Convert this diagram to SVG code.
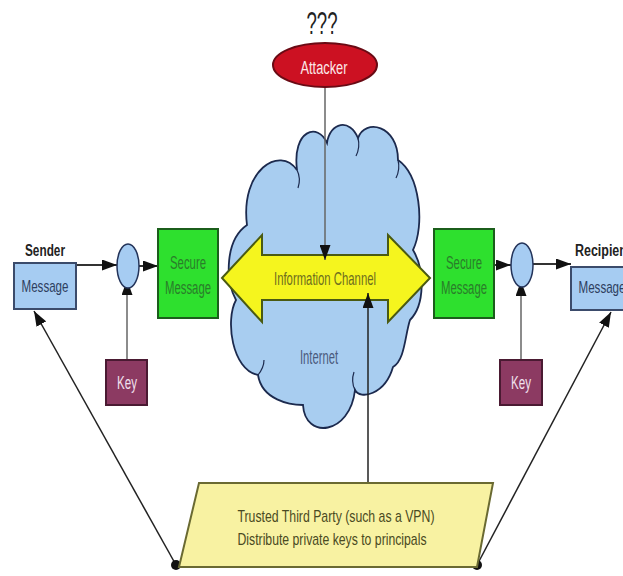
<svg xmlns="http://www.w3.org/2000/svg" width="623" height="576" viewBox="0 0 623 576">
<style>
text{font-family:"Liberation Sans",Arial,sans-serif;text-anchor:middle}
.msg{fill:#a6ccf2;stroke:#3b4b6b;stroke-width:2}
.msgt{fill:#2e3f60;font-size:17px}
.sec{fill:#2ee02e;stroke:#1b5e1b;stroke-width:2}
.sect{fill:#2a7d2a;font-size:18px}
.key{fill:#8c3a62;stroke:#4a1a32;stroke-width:2}
.keyt{fill:#f0e0ee;font-size:18px}
.node{fill:#a6ccf2;stroke:#24345a;stroke-width:1.5}
.lbl{fill:#222;font-size:16px;font-weight:bold;text-anchor:start}
.conn{fill:none;stroke:#333;stroke-width:2}
.thin{fill:none;stroke:#666;stroke-width:1.5}
.diag{fill:none;stroke:#222;stroke-width:1.5}
</style>
<defs>
<marker id="ah" viewBox="0 0 15 11" refX="15" refY="5.5" markerWidth="15" markerHeight="11" markerUnits="userSpaceOnUse" orient="auto">
<path d="M0,0 L15,5.5 L0,11 z" fill="#111"/>
</marker>
</defs>

<g id="cloud">
<path d="M247,225 C240,170 280,145 297,170 C292,130 318,122 327,143 C330,122 350,118 358,138 C365,118 398,125 398,160 C420,175 425,225 413,250 C425,270 425,305 410,320 C405,335 405,360 393,367 C385,395 360,400 355,390 C350,435 305,440 303,405 C290,405 262,400 258,375 C232,370 225,320 236,300 C225,280 225,240 247,225 Z" fill="#a8cdf0" stroke="#1c2a4e" stroke-width="1.8"/>
<path d="M297,170 C300,176 300,182 298,188" fill="none" stroke="#1c2a4e" stroke-width="1.2"/>
<path d="M358,138 C360,146 358,152 356,156" fill="none" stroke="#1c2a4e" stroke-width="1.2"/>
<path d="M398,160 C400,168 398,174 396,178" fill="none" stroke="#1c2a4e" stroke-width="1.2"/>
<path d="M258,375 C262,370 264,365 264,360" fill="none" stroke="#1c2a4e" stroke-width="1.2"/>
<path d="M355,390 C352,384 352,378 354,372" fill="none" stroke="#1c2a4e" stroke-width="1.2"/>
<text x="319" y="364" style="fill:#4a5a7c;font-size:20px" textLength="38" lengthAdjust="spacingAndGlyphs">Internet</text>
</g>

<g id="channel">
<polygon points="222,278 262,235 262,255 388,255 388,235 430,278 388,322 388,300 262,300 262,322" fill="#f5f51e" stroke="#4a5a12" stroke-width="2"/>
<text x="325" y="285" style="fill:#6e6e1e;font-size:19px" textLength="102" lengthAdjust="spacingAndGlyphs">Information Channel</text>
</g>

<g id="connectors">
<line class="conn" x1="76" y1="265" x2="117" y2="265" marker-end="url(#ah)"/>
<line class="conn" x1="139" y1="266" x2="158" y2="266" marker-end="url(#ah)"/>
<line class="thin" x1="127" y1="360" x2="127" y2="280" marker-end="url(#ah)"/>
<line class="conn" x1="494" y1="265" x2="511" y2="265" marker-end="url(#ah)"/>
<line class="conn" x1="533" y1="264" x2="571" y2="264" marker-end="url(#ah)"/>
<line class="thin" x1="521" y1="360" x2="521" y2="281" marker-end="url(#ah)"/>
<line class="thin" x1="325" y1="87" x2="325" y2="260" marker-end="url(#ah)"/>
<line class="diag" x1="368" y1="483" x2="368" y2="293" marker-end="url(#ah)"/>
<line class="diag" x1="176" y1="565" x2="34" y2="311" marker-end="url(#ah)"/>
<line class="diag" x1="477" y1="565" x2="611" y2="312" marker-end="url(#ah)"/>
<circle cx="176" cy="565" r="5" fill="#111"/>
<circle cx="477" cy="565" r="5" fill="#111"/>
</g>

<g id="sender">
<text class="lbl" x="25" y="256" textLength="40" lengthAdjust="spacingAndGlyphs">Sender</text>
<rect class="msg" x="14" y="263" width="62" height="46"/>
<text class="msgt" x="45" y="292" textLength="47" lengthAdjust="spacingAndGlyphs">Message</text>
</g>

<g id="enc-left">
<ellipse class="node" cx="128" cy="266" rx="11" ry="22"/>
</g>

<g id="key-left">
<rect class="key" x="106" y="360" width="41" height="45"/>
<text class="keyt" x="127" y="389" textLength="20" lengthAdjust="spacingAndGlyphs">Key</text>
</g>

<g id="secure-left">
<rect class="sec" x="158" y="229" width="60" height="89"/>
<text class="sect" x="188" y="269" textLength="36" lengthAdjust="spacingAndGlyphs">Secure</text>
<text class="sect" x="188" y="294" textLength="46" lengthAdjust="spacingAndGlyphs">Message</text>
</g>

<g id="attacker">
<text x="322" y="34" style="fill:#222;font-size:32px" textLength="31" lengthAdjust="spacingAndGlyphs">???</text>
<ellipse cx="325" cy="65" rx="52" ry="22" fill="#cc1122" stroke="#6a0a14" stroke-width="2"/>
<text x="324" y="74" style="fill:#fbe8e8;font-size:18px" textLength="47" lengthAdjust="spacingAndGlyphs">Attacker</text>
</g>

<g id="secure-right">
<rect class="sec" x="434" y="229" width="60" height="89"/>
<text class="sect" x="464" y="269" textLength="36" lengthAdjust="spacingAndGlyphs">Secure</text>
<text class="sect" x="464" y="294" textLength="46" lengthAdjust="spacingAndGlyphs">Message</text>
</g>

<g id="dec-right">
<ellipse class="node" cx="522" cy="265" rx="11" ry="22"/>
</g>

<g id="key-right">
<rect class="key" x="500" y="360" width="42" height="45"/>
<text class="keyt" x="521" y="389" textLength="20" lengthAdjust="spacingAndGlyphs">Key</text>
</g>

<g id="recipient">
<text class="lbl" x="575" y="256" textLength="56" lengthAdjust="spacingAndGlyphs">Recipient</text>
<rect class="msg" x="571" y="267" width="62" height="43"/>
<text class="msgt" x="602" y="293" textLength="47" lengthAdjust="spacingAndGlyphs">Message</text>
</g>

<g id="ttp">
<polygon points="199,483 493,483 477,567 179,567" fill="#f8f2a2" stroke="#6a6a32" stroke-width="2"/>
<text x="336" y="522" style="fill:#4a4a22;font-size:17px" textLength="197" lengthAdjust="spacingAndGlyphs">Trusted Third Party (such as a VPN)</text>
<text x="332" y="545" style="fill:#4a4a22;font-size:17px" textLength="189" lengthAdjust="spacingAndGlyphs">Distribute private keys to principals</text>
</g>
</svg>
